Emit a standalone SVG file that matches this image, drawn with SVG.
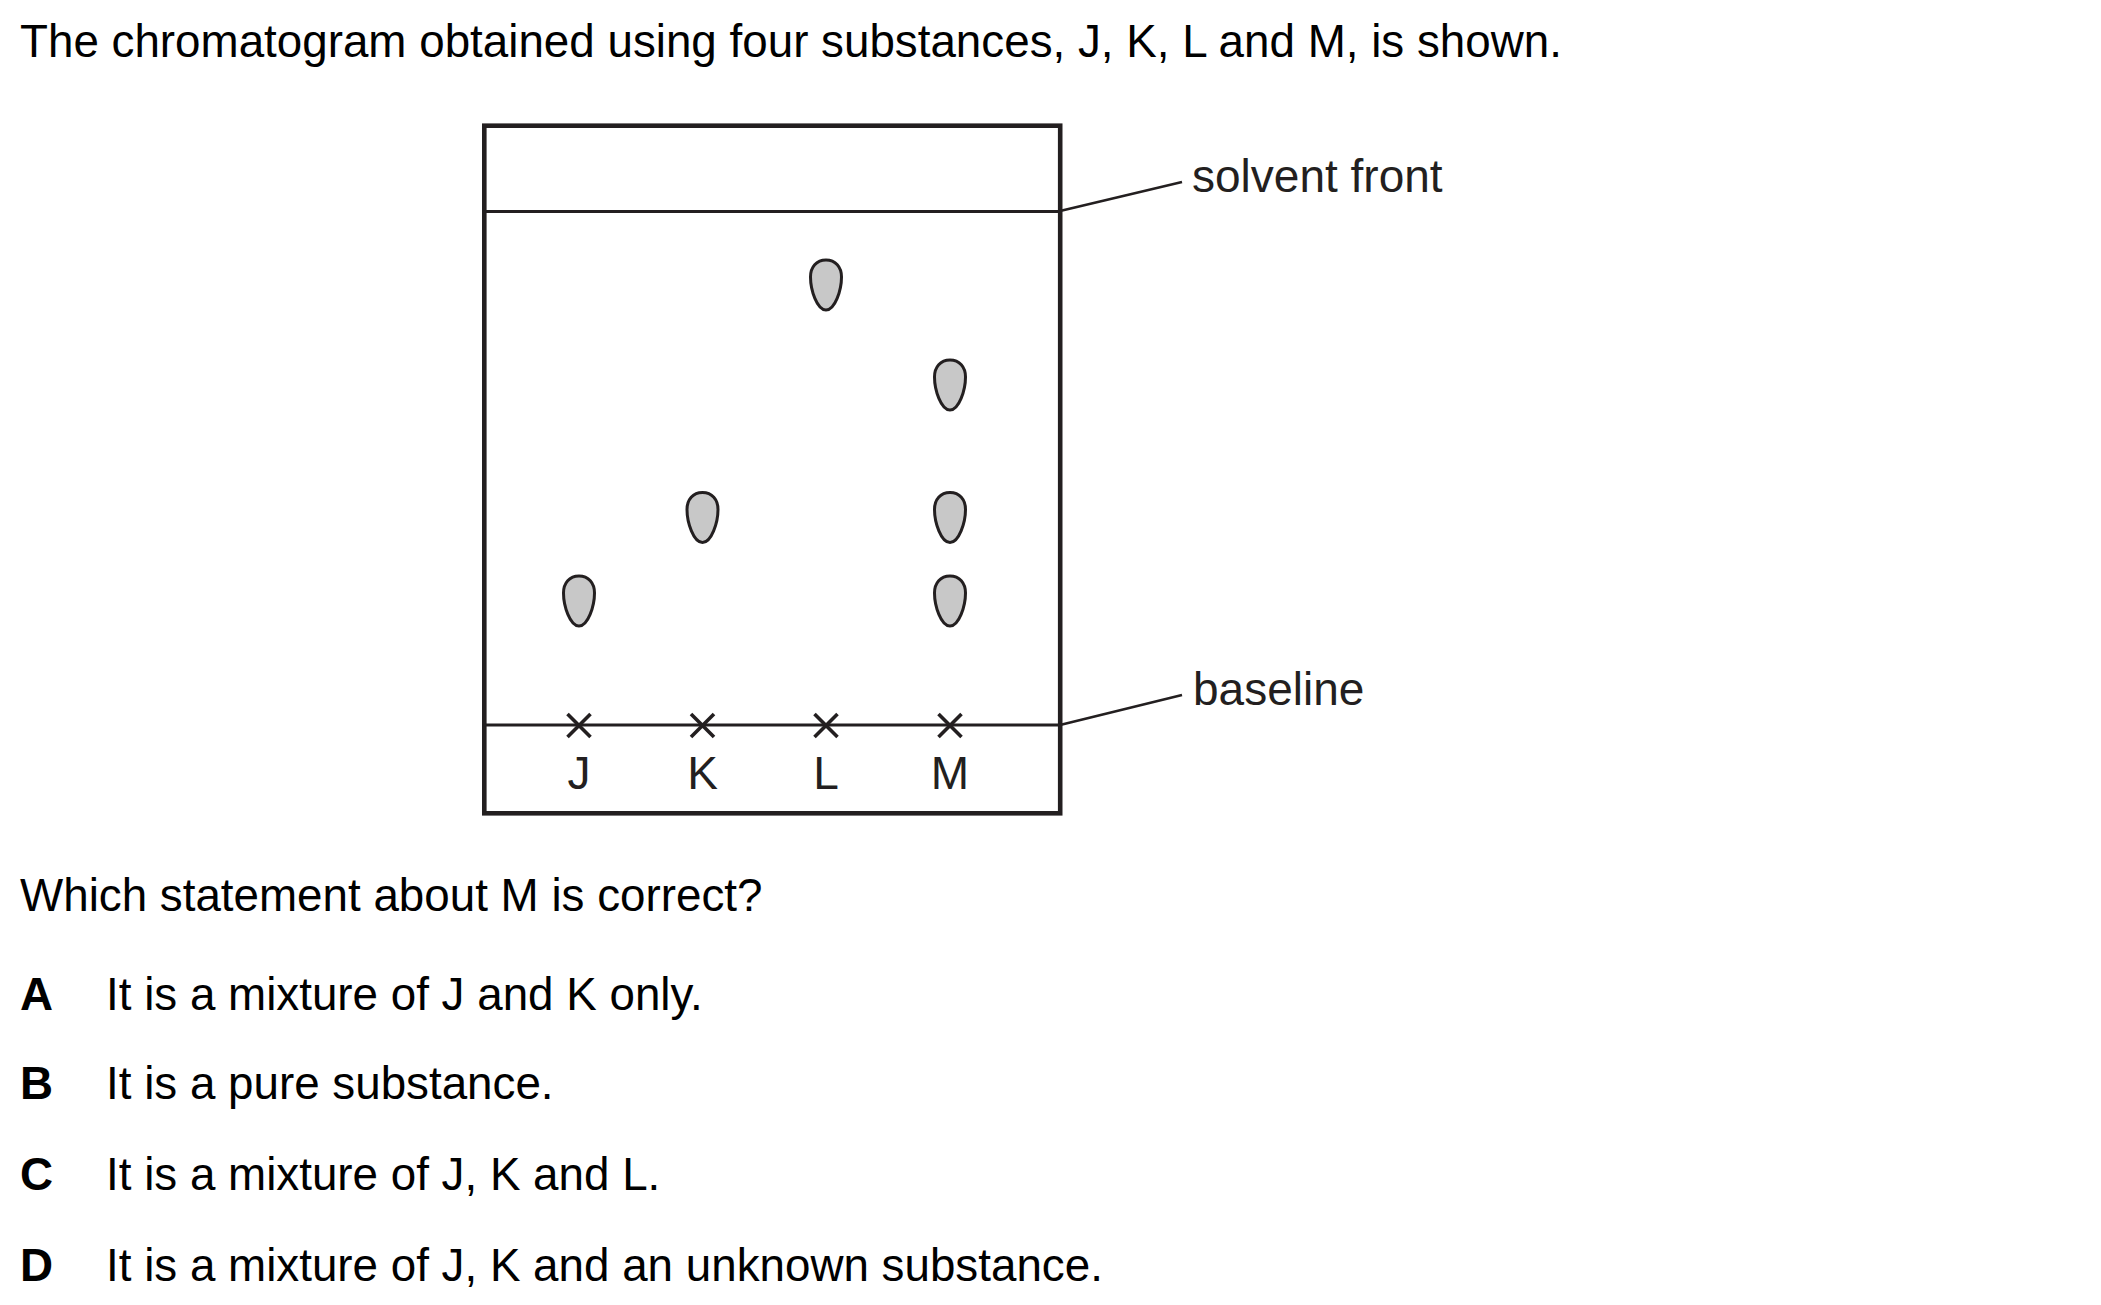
<svg xmlns="http://www.w3.org/2000/svg" width="2101" height="1305" viewBox="0 0 2101 1305">
<defs>
<style>
.q{font-family:"Liberation Sans",Arial,sans-serif;font-size:45.75px;fill:#000}
.qb{font-family:"Liberation Sans",Arial,sans-serif;font-size:45.75px;font-weight:bold;fill:#000}
.lab{font-family:"Liberation Sans",Arial,sans-serif;font-size:46px;fill:#231f20}
.mid{text-anchor:middle}
.box{fill:none;stroke:#231f20;stroke-width:4.6}
.ln{stroke:#231f20;stroke-width:3.2;fill:none}
.lead{stroke:#231f20;stroke-width:2.6;fill:none}
.spot{fill:#c8c8c8;stroke:#231f20;stroke-width:3}
.x{stroke:#231f20;stroke-width:3.6;fill:none}
</style>
<path id="egg" d="M0,-25 C9.5,-25 15.5,-18 15.5,-8 C15.5,5 9,25 0,25 C-9,25 -15.5,5 -15.5,-8 C-15.5,-18 -9.5,-25 0,-25 Z"/>
<path id="cross" d="M-11.5,-11.5 L11.5,11.5 M-11.5,11.5 L11.5,-11.5"/>
</defs>
<rect width="2101" height="1305" fill="#fff"/>
<text class="q" x="20" y="57">The chromatogram obtained using four substances, J, K, L and M, is shown.</text>

<g id="plate">
<rect class="box" x="484.3" y="125.7" width="575.9" height="687.6"/>
<line id="solvent-front-line" class="ln" x1="484" y1="211.5" x2="1060" y2="211.5"/>
<line id="baseline-line" class="ln" x1="484" y1="725" x2="1060" y2="725"/>
</g>

<g id="spots">
<use href="#egg" class="spot" x="579" y="601"/>
<use href="#egg" class="spot" x="702.5" y="517.5"/>
<use href="#egg" class="spot" x="826" y="285"/>
<use href="#egg" class="spot" x="950" y="385"/>
<use href="#egg" class="spot" x="950" y="517.5"/>
<use href="#egg" class="spot" x="950" y="601"/>
</g>

<g id="crosses">
<use href="#cross" class="x" x="579" y="725.5"/>
<use href="#cross" class="x" x="702.5" y="725.5"/>
<use href="#cross" class="x" x="826" y="725.5"/>
<use href="#cross" class="x" x="950" y="725.5"/>
</g>

<g id="lane-labels">
<text class="lab mid" x="579" y="789">J</text>
<text class="lab mid" x="702.5" y="789">K</text>
<text class="lab mid" x="826" y="789">L</text>
<text class="lab mid" x="950" y="789">M</text>
</g>

<g id="connectors">
<line class="lead" x1="1060" y1="211" x2="1182" y2="182"/>
<line class="lead" x1="1060" y1="725" x2="1182" y2="695"/>
</g>

<g id="label-solvent-front"><text class="lab" x="1192" y="192">solvent front</text></g>
<g id="label-baseline"><text class="lab" x="1193" y="705">baseline</text></g>

<text class="q" x="20" y="911">Which statement about M is correct?</text>
<text class="qb" x="20" y="1010">A</text>
<text class="q" x="106" y="1010">It is a mixture of J and K only.</text>
<text class="qb" x="20" y="1099">B</text>
<text class="q" x="106" y="1099">It is a pure substance.</text>
<text class="qb" x="20" y="1190">C</text>
<text class="q" x="106" y="1190">It is a mixture of J, K and L.</text>
<text class="qb" x="20" y="1281">D</text>
<text class="q" x="106" y="1281">It is a mixture of J, K and an unknown substance.</text>
</svg>
